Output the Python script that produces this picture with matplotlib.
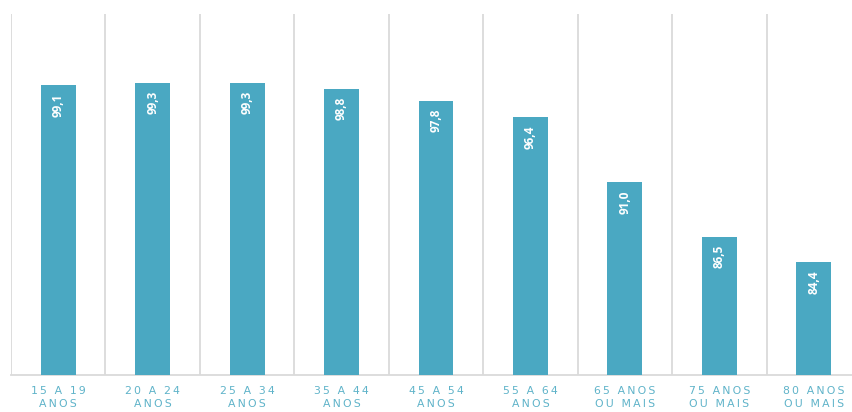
import numpy as np
import matplotlib.pyplot as plt

categories = ["15 A 19\nANOS", "20 A 24\nANOS", "25 A 34\nANOS", "35 A 44\nANOS",
              "45 A 54\nANOS", "55 A 64\nANOS", "65 ANOS\nOU MAIS", "75 ANOS\nOU MAIS",
              "80 ANOS\nOU MAIS"]
values = [99.1, 99.3, 99.3, 98.8, 97.8, 96.4, 91.0, 86.5, 84.4]

bar_color = "#4aa8c2"
label_color = "#5fb3c9"
grid_color = "#dadada"


def spaced(s):
    # fake letter spacing
    return "\n".join("\u2009".join(line) for line in s.split("\n"))


fig = plt.figure(figsize=(8.52, 4.12), dpi=100)
W, H = 852, 412
ax = fig.add_axes([11 / W, (H - 375) / H, 850 / W, (375 - 14) / H])

x = np.arange(len(values))
ax.bar(x, values, width=0.37, color=bar_color, zorder=3)
ax.set_xlim(-0.5, len(values) - 0.5)
ax.set_ylim(75, 105)

for b in np.arange(-0.5, len(values), 1.0):
    ax.axvline(b, color=grid_color, lw=1.3, zorder=1)

for xi, v in zip(x, values):
    ax.annotate(f"{v:.1f}".replace(".", ","), (xi, v), xytext=(0, -6),
                textcoords="offset points", rotation=90, ha="center", va="top",
                color="white", fontsize=8.5, fontweight="bold",
                family=["Open Sans", "DejaVu Sans"], zorder=4)

ax.set_xticks(x)
ax.set_xticklabels([spaced(c) for c in categories], color=label_color,
                   fontsize=7.8, linespacing=1.4, family=["DejaVu Sans"])
ax.tick_params(axis="x", length=0, pad=8)
ax.set_yticks([])
for s in ["top", "left", "right"]:
    ax.spines[s].set_visible(False)
ax.spines["bottom"].set_color(grid_color)
ax.spines["bottom"].set_linewidth(1.3)

fig.savefig("out.png", dpi=100)
